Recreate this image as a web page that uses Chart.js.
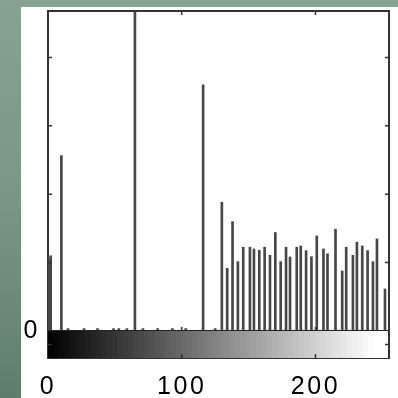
<!DOCTYPE html>
<html>
<head>
<meta charset="utf-8">
<script src="https://cdn.jsdelivr.net/npm/chart.js@4/dist/chart.umd.min.js"></script>
<style>
  html, body { margin: 0; padding: 0; }
  body {
    width: 398px; height: 398px; overflow: hidden; position: relative;
    background: linear-gradient(to bottom, #86a291 0%, #7a9686 50%, #5f7d6d 100%);
  }
  #wrap { position: absolute; left: 21px; top: 7px; width: 377px; height: 391px; background: #ffffff; }
  canvas { display: block; }
</style>
</head>
<body>
<div id="wrap"><canvas id="c" width="377" height="391"></canvas></div>
<script>
// Gray levels (x) and pixel counts (y) of the histogram stems
const levels = [1, 2, 10, 15, 27, 37, 49, 53, 59, 65, 71, 82, 93, 103, 116, 125,
  130, 134, 138, 142, 146, 151, 154, 158, 162, 166, 170, 174, 178, 181, 186, 189,
  193, 197, 201, 206, 209, 215, 220, 223, 228, 231, 235, 239, 243, 246, 252];
const counts = [1050, 1100, 2565, 35, 35, 35, 35, 35, 35, 5600, 35, 35, 35, 35, 3600, 35,
  1883, 917, 1600, 1014, 1225, 1225, 1200, 1180, 1225, 1107, 1440, 1014, 1225, 1083, 1225, 1244,
  1175, 1087, 1390, 1200, 1130, 1488, 878, 1225, 1107, 1300, 1244, 1175, 1014, 1346, 615];
// Colour bar: gray level steps
const barLevels = Array.from({length: 64}, (_, i) => i * 4 + 2);
const xTicks = [0, 100, 200];
const yTicks = [0, 1000, 2000, 3000, 4000];
const yMax = 4680;

const histData = levels.map((l, i) => ({x: l, y: counts[i]}));
const cbData = barLevels.map(l => ({x: l, y: 1}));
const cbColors = barLevels.map(l => { const g = Math.min(255, Math.round(l * 1.04)); return `rgb(${g},${g},${g})`; });

const inwardTicks = {
  id: 'inwardTicks',
  beforeDraw(chart) { chart.ctx.letterSpacing = '2.5px'; },
  afterDraw(chart) {
    const {ctx, chartArea: ca, scales} = chart;
    ctx.save();
    ctx.letterSpacing = '0px';
    ctx.strokeStyle = '#333';
    ctx.lineWidth = 2;
    ctx.beginPath();
    ctx.moveTo(ca.left, ca.top); ctx.lineTo(ca.right, ca.top); ctx.lineTo(ca.right, ca.bottom);
    ctx.stroke();
    ctx.lineWidth = 1.5;
    ctx.beginPath();
    yTicks.forEach(v => {
      if (v === 0) return;
      const py = scales.y.getPixelForValue(v);
      ctx.moveTo(ca.left, py); ctx.lineTo(ca.left + 4, py);
      ctx.moveTo(ca.right, py); ctx.lineTo(ca.right - 4, py);
    });
    const pm = scales.yc.getPixelForValue(0.5);
    ctx.moveTo(ca.right, pm); ctx.lineTo(ca.right - 4, pm);
    ctx.moveTo(ca.left, pm); ctx.lineTo(ca.left + 4, pm);
    const y0 = scales.y.getPixelForValue(0);
    xTicks.forEach(v => {
      if (v === 0) return;
      const px = scales.x.getPixelForValue(v);
      ctx.moveTo(px, ca.top); ctx.lineTo(px, ca.top + 4);
      ctx.moveTo(px, ca.bottom); ctx.lineTo(px, ca.bottom - 4);
      ctx.moveTo(px, y0); ctx.lineTo(px, y0 - 4);
    });
    ctx.stroke();
    ctx.restore();
  }
};

const fitV = s => { s.width = 27; s.paddingTop = 0; s.paddingBottom = 0; };

new Chart(document.getElementById('c'), {
  type: 'bar',
  data: {
    datasets: [
      {
        label: 'histogram', data: histData, xAxisID: 'x', yAxisID: 'y',
        backgroundColor: '#474747', borderWidth: 0, barThickness: 2, grouped: false
      },
      {
        label: 'colorbar', data: cbData, xAxisID: 'x', yAxisID: 'yc',
        backgroundColor: cbColors, borderWidth: 0, barThickness: 6, grouped: false
      }
    ]
  },
  options: {
    responsive: false,
    animation: false,
    devicePixelRatio: 1,
    layout: { padding: { top: 4, right: 9, left: 0, bottom: 0 } },
    plugins: { legend: { display: false }, tooltip: { enabled: false } },
    scales: {
      x: {
        type: 'linear', position: 'bottom', min: 0, max: 255, offset: false,
        afterBuildTicks: s => { s.ticks = xTicks.map(v => ({value: v})); },
        ticks: { color: '#000', padding: 14, maxRotation: 0, autoSkip: false,
          font: { family: 'Liberation Sans, Arial, sans-serif', size: 25 } },
        grid: { display: false, drawTicks: false },
        border: { display: true, color: '#333', width: 2 },
        afterFit: s => { s.height = 40; s.paddingLeft = 0; s.paddingRight = 0; }
      },
      y: {
        type: 'linear', position: 'left', stack: 'main', stackWeight: 320, weight: 1,
        min: 0, max: yMax,
        afterBuildTicks: s => { s.ticks = yTicks.map(v => ({value: v})); },
        ticks: { color: '#000', padding: 8, autoSkip: false,
          callback: v => (v === 0 ? '0' : ''),
          font: { family: 'Liberation Sans, Arial, sans-serif', size: 25 } },
        grid: { drawTicks: false, color: c => (c.tick && c.tick.value === 0 ? '#222' : 'rgba(0,0,0,0)'), lineWidth: 2.5 },
        border: { display: true, color: '#333', width: 2 },
        afterFit: fitV
      },
      yc: {
        type: 'linear', position: 'left', stack: 'main', stackWeight: 27, weight: 0,
        min: 0, max: 1,
        ticks: { display: false },
        grid: { display: false, drawTicks: false },
        border: { display: true, color: '#333', width: 2 },
        afterFit: fitV
      }
    }
  },
  plugins: [inwardTicks]
});
</script>
</body>
</html>
